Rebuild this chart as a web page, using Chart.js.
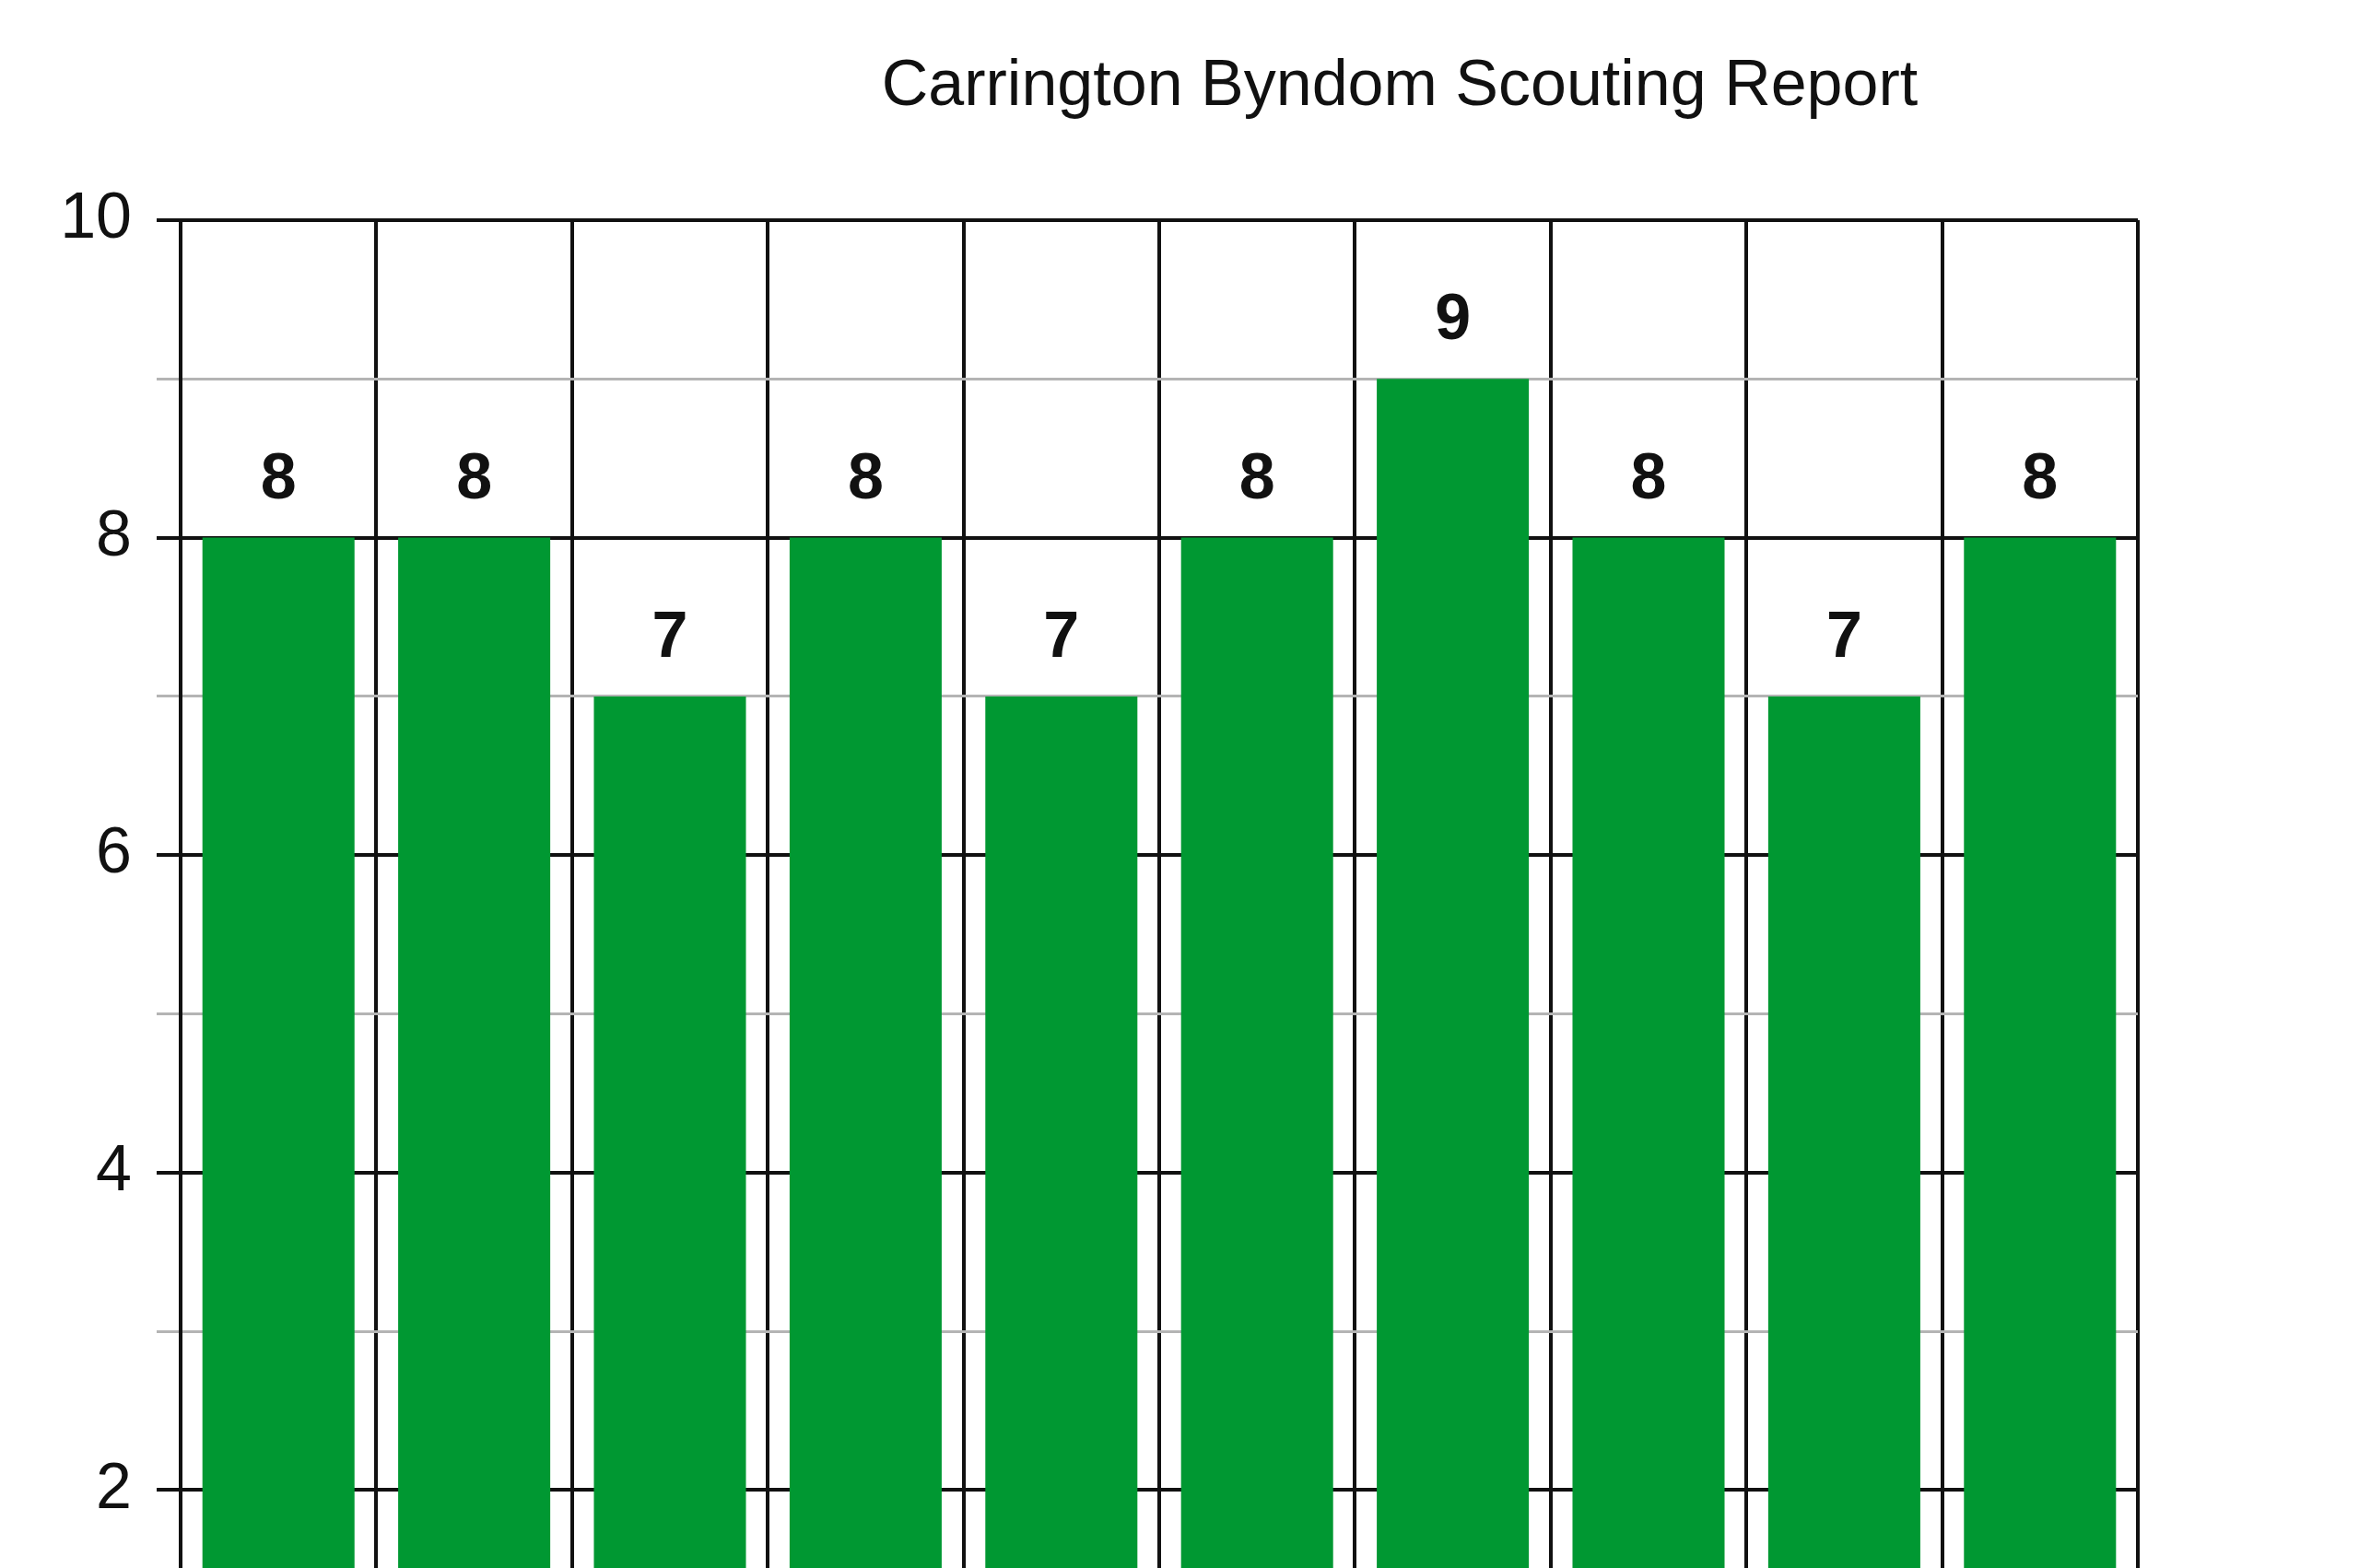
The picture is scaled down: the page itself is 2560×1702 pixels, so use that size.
<!DOCTYPE html>
<html>
<head>
<meta charset="utf-8">
<title>Carrington Byndom Scouting Report</title>
<script src="https://cdn.jsdelivr.net/npm/chart.js@4/dist/chart.umd.min.js"></script>
<style>
  html, body { margin: 0; padding: 0; background: #fff; overflow: hidden; }
  #wrap { width: 2560px; height: 1702px; overflow: hidden; position: relative; }
  #scoutChart { display: block; }
</style>
</head>
<body>
<div id="wrap">
  <canvas id="scoutChart" width="3038" height="2031"></canvas>
</div>
<script>
// values (the category names are cut off at the bottom)
var categories = ["1", "2", "3", "4", "5", "6", "7", "8", "9", "10"];
var grades = [8, 8, 7, 8, 7, 8, 9, 8, 7, 8];
var yTicks = [2, 4, 6, 8, 10];

var barGreen = "#009832";

// numbers over the bars, placed from the bar elements themselves
var valueLabels = {
  id: "valueLabels",
  afterDatasetsDraw: function (chart) {
    var ctx = chart.ctx;
    var meta = chart.getDatasetMeta(0);
    ctx.save();
    ctx.font = "bold 70px 'Liberation Sans', Arial, sans-serif";
    ctx.fillStyle = "#111";
    ctx.textAlign = "center";
    ctx.textBaseline = "alphabetic";
    meta.data.forEach(function (bar, i) {
      ctx.fillText(String(grades[i]), bar.x, bar.y - 43);
    });
    ctx.restore();
  }
};

Chart.defaults.font.family = "'Liberation Sans', Arial, sans-serif";
Chart.defaults.color = "#111";

new Chart("scoutChart", {
  type: "bar",
  data: {
    labels: categories,
    datasets: [
      {
        label: "Grade",
        data: grades,
        backgroundColor: barGreen,
        borderWidth: 0,
        barPercentage: 0.777,
        categoryPercentage: 1
      }
    ]
  },
  options: {
    responsive: false,
    animation: false,
    devicePixelRatio: 1,
    layout: {
      padding: { left: 0, right: 0, top: 0, bottom: 26 }
    },
    plugins: {
      legend: { display: false },
      tooltip: { enabled: false },
      title: {
        display: true,
        text: "Carrington Byndom Scouting Report",
        color: "#111",
        font: { size: 70, weight: "normal" },
        padding: { top: 53, bottom: 102 }
      }
    },
    scales: {
      x: {
        ticks: { display: false },
        grid: {
          color: "#111",
          lineWidth: 4,
          drawTicks: false,
          offset: true
        },
        border: { display: false }
      },
      y: {
        min: 0,
        max: 10,
        afterFit: function (scale) { scale.width = 196; },
        ticks: {
          stepSize: 1,
          padding: 27,
          color: "#111",
          font: { size: 70 },
          callback: function (v) {
            return yTicks.indexOf(v) >= 0 ? String(v) : "";
          }
        },
        grid: {
          tickLength: 26,
          color: function (c) {
            return c.tick && c.tick.value % 2 === 0 ? "#111" : "#b4b4b4";
          },
          lineWidth: function (c) {
            return c.tick && c.tick.value % 2 === 0 ? 4 : 3;
          }
        },
        border: { color: "#111", width: 4 }
      },
      // empty space on the right of the plot (the original image is cropped there)
      side: {
        position: "right",
        afterFit: function (scale) { scale.width = 718; },
        ticks: { display: false },
        grid: { drawOnChartArea: false, drawTicks: false },
        border: { display: false }
      }
    }
  },
  plugins: [valueLabels]
});
</script>
</body>
</html>
